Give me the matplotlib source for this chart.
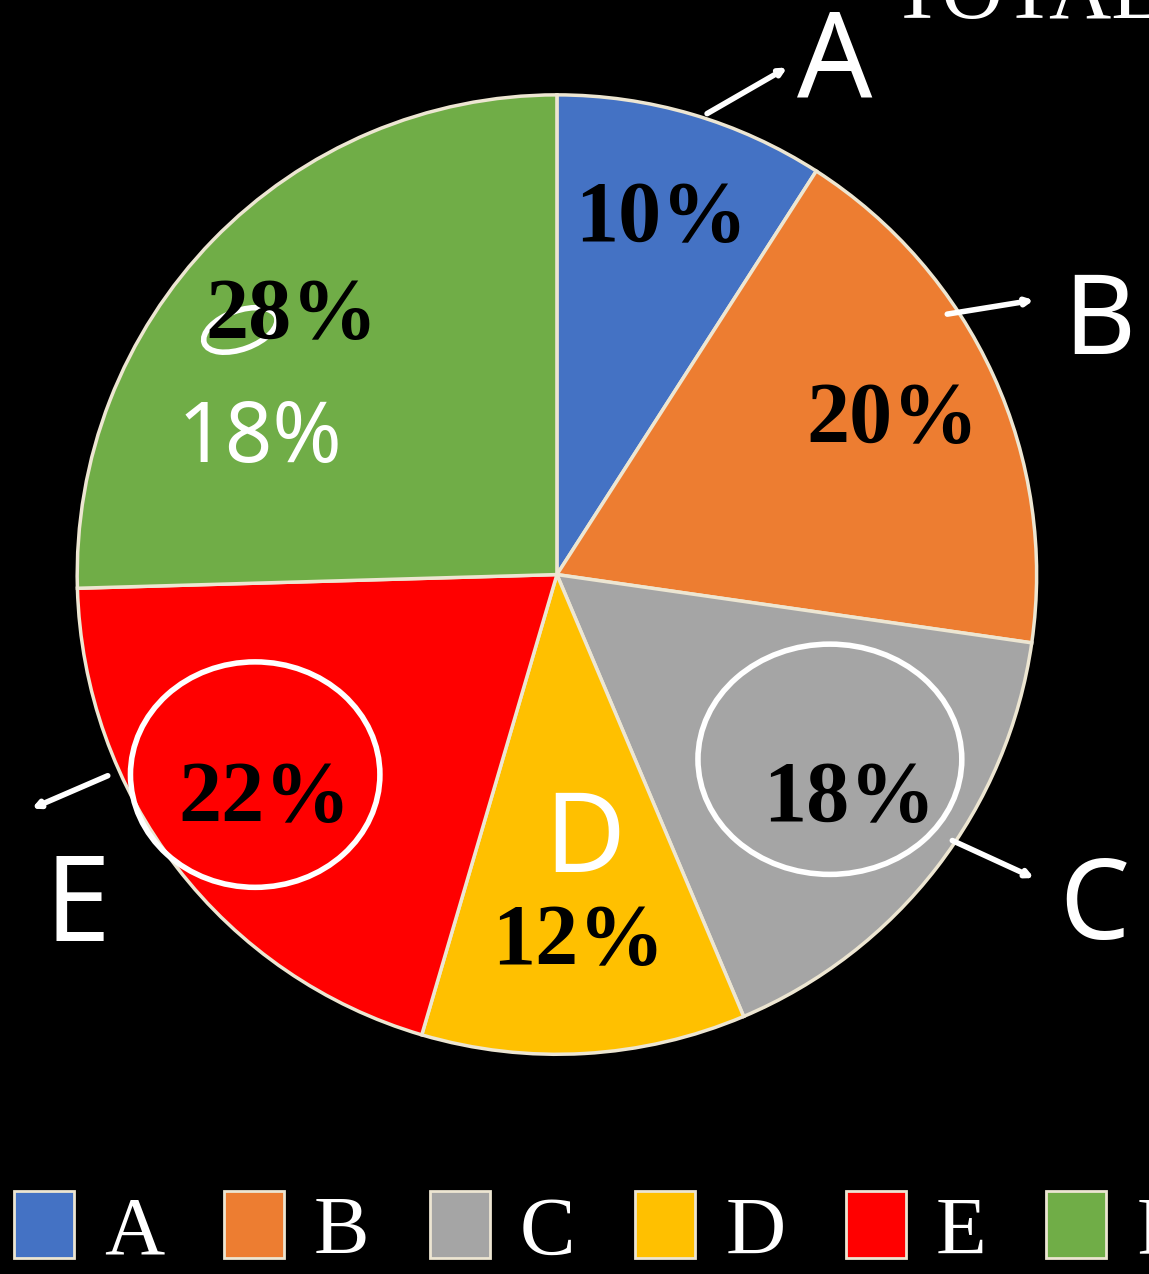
import matplotlib
matplotlib.use("Agg")
from matplotlib import pyplot as plt
from matplotlib.patches import Ellipse
import numpy as np

# slice data (labels show raw values, pie is drawn from them)
labels = ["A", "B", "C", "D", "E", "F"]
values = [10, 20, 18, 12, 22, 28]
colors = ["#4472C4", "#ED7D31", "#A5A5A5", "#FFC000", "#FF0000", "#70AD47"]
pct_text = [str(v) + "%" for v in values]

plt.rcParams["font.family"] = ["Liberation Serif", "DejaVu Serif"]

fig = plt.figure(figsize=(11.49, 12.74), dpi=100, facecolor="black")
ax = fig.add_axes([0.0672, 0.172, 0.835, 0.754])
ax.set_facecolor("black")

wedges, texts = ax.pie(values, colors=colors, startangle=90, counterclock=False,
                       radius=1.0, wedgeprops=dict(edgecolor="#EDE6D2", linewidth=2.5))
for w, t in zip(wedges, pct_text):
    ang = (w.theta1 + w.theta2) / 2
    r = 0.77
    ax.text(r * np.cos(np.radians(ang)), r * np.sin(np.radians(ang)), t,
            ha="center", va="center", fontsize=62, fontweight="bold", color="black")

ax.set_xlim(-1, 1)
ax.set_ylim(-1, 1)
ax.set_aspect("equal")
ax.axis("off")

# title, cut off at the top
fig.text(890 / 1149, 1 - 18 / 1274, "TOTAL", color="white", fontsize=62,
         ha="left", va="baseline")

# legend along the bottom
leg = fig.legend(wedges, labels, loc="lower left", bbox_to_anchor=(0.012, 0.002),
                 ncol=6, frameon=False, fontsize=60, handlelength=0.72, handleheight=0.85,
                 columnspacing=0.72, handletextpad=0.36, labelcolor="white",
                 borderaxespad=0.0, borderpad=0.0)
for h in leg.legend_handles:
    h.set_edgecolor("#EDE6D2")
    h.set_linewidth(2)

# hand-drawn annotations
hand = dict(color="white", family=["Noto Sans", "DejaVu Sans"], fontweight="light")
arrow = dict(arrowstyle="->", color="white", lw=4)
ax.annotate("", xy=(0.485, 1.06), xytext=(0.308, 0.958), arrowprops=arrow, annotation_clip=False)
ax.text(0.58, 1.06, "A", fontsize=85, ha="center", va="center", clip_on=False, **hand)
ax.annotate("", xy=(1.0, 0.573), xytext=(0.808, 0.542), arrowprops=arrow, annotation_clip=False)
ax.text(1.13, 0.52, "B", fontsize=80, ha="center", va="center", clip_on=False, **hand)
ax.annotate("", xy=(1.0, -0.635), xytext=(0.819, -0.552), arrowprops=arrow, annotation_clip=False)
ax.text(1.12, -0.70, "C", fontsize=80, ha="center", va="center", clip_on=False, **hand)
ax.text(0.058, -0.56, "D", fontsize=80, ha="center", va="center", **hand)
ax.annotate("", xy=(-1.1, -0.49), xytext=(-0.931, -0.417), arrowprops=arrow, annotation_clip=False)
ax.text(-1.0, -0.70, "E", fontsize=85, ha="center", va="center", clip_on=False, **hand)
ax.text(-0.62, 0.28, "18%", fontsize=60, ha="center", va="center", **hand)
ax.add_patch(Ellipse((-0.629, -0.417), 0.52, 0.47, fill=False, ec="white", lw=4))
ax.add_patch(Ellipse((0.569, -0.385), 0.55, 0.48, fill=False, ec="white", lw=4))
ax.add_patch(Ellipse((-0.66, 0.51), 0.16, 0.08, angle=20, fill=False, ec="white", lw=4))

fig.savefig("out.png", dpi=100, facecolor="black")
